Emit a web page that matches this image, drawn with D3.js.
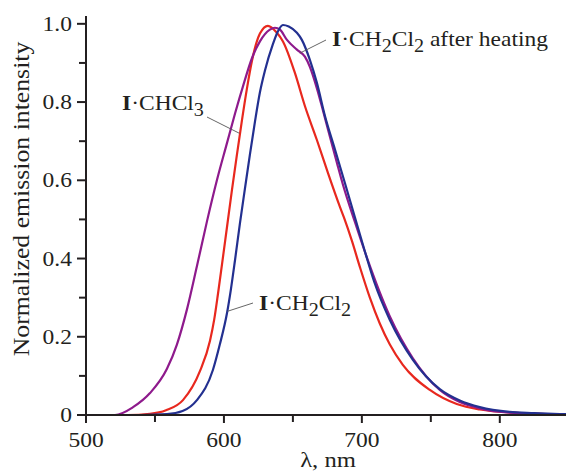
<!DOCTYPE html>
<html><head><meta charset="utf-8">
<script src="https://cdn.jsdelivr.net/npm/d3@7"></script>
<style>body{margin:0;background:#fff}svg{display:block}</style>
</head><body><svg id="c" width="566" height="472"></svg>
<script>
// wavelength (nm) and normalized intensity
const blueX = [500,540,558.7,570,580.4,592.0,597,602.2,605,608.0,611.6,615.2,618.8,622.5,626.1,629.7,635.5,639,642.8,647,652.9,656.5,662.3,667.4,673.2,680.4,687.7,694.9,702.2,709,720.3,737.0,756.5,771,785.5,807,825,848];
const blueY = [0,0,0.002,0.01,0.038,0.115,0.18,0.26,0.32,0.395,0.49,0.578,0.665,0.75,0.825,0.88,0.948,0.98,0.997,0.993,0.977,0.959,0.908,0.849,0.765,0.68,0.593,0.506,0.418,0.34,0.243,0.141,0.066,0.037,0.02,0.008,0.005,0.002];
const redX = [500,530,546.4,558,570.3,582.6,589.9,593,595.7,598.6,602.2,605.8,609.4,613.0,616.7,620.3,626.1,631.9,638.4,642.8,651.4,658.7,667.4,675.4,684.1,687.0,692.8,698.6,705.8,713.0,720.3,729.7,749.3,768.8,785.5,814.5,848];
const redY = [0,0,0.003,0.012,0.038,0.112,0.19,0.245,0.31,0.385,0.48,0.575,0.665,0.752,0.835,0.905,0.975,0.995,0.977,0.955,0.875,0.79,0.703,0.619,0.532,0.505,0.445,0.378,0.3,0.234,0.18,0.128,0.064,0.028,0.014,0.005,0.001];
const purpleX = [500,521.0,534.1,546.4,558.7,565.9,573.2,580.4,587.7,594.9,602.2,608.0,613.8,620.3,626.1,633.3,637.0,640.6,645.7,652.9,658.7,662.3,667.4,671.7,676.8,681.9,686.2,694.9,703.6,720.3,737.0,756.5,771,785.5,807.2,848];
const purpleY = [0,0,0.02,0.056,0.118,0.18,0.27,0.38,0.495,0.6,0.695,0.77,0.84,0.912,0.955,0.985,0.99,0.985,0.959,0.934,0.916,0.89,0.835,0.78,0.712,0.645,0.59,0.494,0.403,0.252,0.145,0.064,0.033,0.017,0.006,0.001];
const xTicks = [500,600,700,800];
const xMinor = [550,650,750];
const yTicks = [0,0.2,0.4,0.6,0.8,1.0];
const yMinor = [0.1,0.3,0.5,0.7,0.9];
const yTickLabels = ["0","0.2","0.4","0.6","0.8","1.0"];

const svg = d3.select("#c");
const font = "'Liberation Serif','Times New Roman',serif";
const ink = "#231f20";
const SX = 1.12; // horizontal widening of the reference's serif type
const x = d3.scaleLinear().domain([500,848]).range([86,566]);
const y = d3.scaleLinear().domain([0,1.02]).range([415,16]);

// curves
const line = d3.line().x(d=>x(d[0])).y(d=>y(d[1])).curve(d3.curveMonotoneX);
const series = [
  {xs: redX, ys: redY, color: "#e8281e"},
  {xs: purpleX, ys: purpleY, color: "#8e1a8c"},
  {xs: blueX, ys: blueY, color: "#233090"}
];
series.forEach(s=>{
  svg.append("path").datum(s.xs.map((v,i)=>[v,s.ys[i]]))
    .attr("d", line).attr("fill","none").attr("stroke", s.color)
    .attr("stroke-width", 2.2).attr("stroke-linejoin","round");
});

// axes
const ax = svg.append("g").attr("stroke", ink).attr("stroke-width", 2);
ax.append("line").attr("x1",x(500)).attr("x2",x(500)).attr("y1",y(1.02)).attr("y2",y(0)+1);
ax.append("line").attr("x1",x(500)-1).attr("x2",x(848)).attr("y1",y(0)).attr("y2",y(0));
yTicks.forEach(t=>ax.append("line").attr("x1",x(500)-9).attr("x2",x(500)).attr("y1",y(t)).attr("y2",y(t)));
yMinor.forEach(t=>ax.append("line").attr("x1",x(500)-7).attr("x2",x(500)).attr("y1",y(t)).attr("y2",y(t)));
xTicks.forEach(t=>ax.append("line").attr("x1",x(t)).attr("x2",x(t)).attr("y1",y(0)).attr("y2",y(0)+8));
xMinor.forEach(t=>ax.append("line").attr("x1",x(t)).attr("x2",x(t)).attr("y1",y(0)).attr("y2",y(0)+7));

const txt = svg.append("g").attr("font-family", font).attr("fill", ink);
function T(tr, size, anchor){
  return txt.append("text").attr("transform", tr + " scale(" + SX + ",1)")
    .attr("font-size", size).attr("text-anchor", anchor || "start");
}
yTicks.forEach((t,i)=>T(`translate(${x(500)-14},${y(t)+7})`,21,"end").text(yTickLabels[i]));
xTicks.forEach(t=>T(`translate(${x(t)},447)`,21,"middle").text(t));
T("translate(29,199) rotate(-90)",23,"middle").text("Normalized emission intensity");
T("translate(328,467)",22,"middle").text("λ, nm");

// annotation labels
function label(px, py, parts){
  const t = T(`translate(${px},${py})`,21);
  parts.forEach(p=>{
    const ts = t.append("tspan").text(p.t);
    if(p.b) ts.attr("font-weight","bold");
    if(p.sub) ts.attr("dy",6).attr("font-size",18);
    if(p.up) ts.attr("dy",-6);
  });
}
label(122,110,[{t:"I",b:1},{t:"·CHCl"},{t:"3",sub:1}]);
label(332,46,[{t:"I",b:1},{t:"·CH"},{t:"2",sub:1},{t:"Cl",up:1},{t:"2",sub:1},{t:" after heating",up:1}]);
label(259,310,[{t:"I",b:1},{t:"·CH"},{t:"2",sub:1},{t:"Cl",up:1},{t:"2",sub:1}]);

// leader lines
const ld = svg.append("g").attr("stroke","#555").attr("stroke-width",0.9);
ld.append("line").attr("x1",207).attr("y1",117).attr("x2",x(611.3)).attr("y2",y(0.72));
ld.append("line").attr("x1",326).attr("y1",40).attr("x2",x(655)).attr("y2",y(0.925));
ld.append("line").attr("x1",253).attr("y1",303).attr("x2",x(602.5)).attr("y2",y(0.265));
</script></body></html>
